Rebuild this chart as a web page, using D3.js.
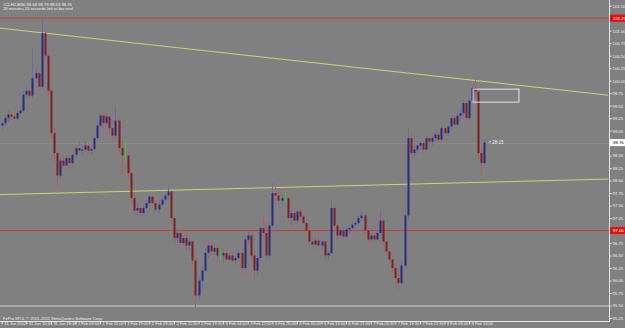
<!DOCTYPE html>
<html>
<head>
<meta charset="utf-8">
<script src="https://d3js.org/d3.v7.min.js"></script>
<style>
  html, body { margin: 0; padding: 0; background: #808080; overflow: hidden; }
  svg { display: block; }
  text { font-family: "Liberation Sans", Arial, sans-serif; }
</style>
</head>
<body>
<svg id="chart" width="625" height="328"></svg>
<script>
// testi del grafico
const symbolLine = "#CLH2,M30  98.68 98.79 98.63 98.76";
const timerLine = "28 minutes 15 seconds left to bar end";
const copyright = "FxPro MT4, \u00a9 2001-2011 MetaQuotes Software Corp.";
const timerLabel = "< 28:15";

// candele M30: [open, high, low, close]
const bars = [
  [99.10, 99.20, 99.02, 99.15], [99.15, 99.30, 99.10, 99.25], [99.25, 99.40, 99.18, 99.32],
  [99.32, 99.38, 99.22, 99.28], [99.28, 99.35, 99.20, 99.24], [99.24, 99.40, 99.20, 99.35],
  [99.35, 99.45, 99.28, 99.40], [99.40, 99.80, 99.35, 99.72], [99.72, 99.88, 99.65, 99.80],
  [99.80, 99.85, 99.62, 99.70], [99.70, 100.65, 99.65, 100.05], [100.05, 100.25, 99.95, 100.15],
  [100.15, 100.20, 99.80, 99.88], [99.88, 101.25, 99.85, 100.95], [100.95, 101.00, 100.40, 100.50],
  [100.50, 100.55, 99.70, 99.80], [99.80, 99.85, 98.85, 98.95], [98.95, 99.05, 98.35, 98.55],
  [98.55, 98.60, 97.88, 98.10], [98.10, 98.45, 98.05, 98.40], [98.40, 98.48, 98.25, 98.30],
  [98.30, 98.50, 98.28, 98.45], [98.45, 98.52, 98.20, 98.35], [98.35, 98.55, 98.30, 98.52],
  [98.52, 98.70, 98.45, 98.65], [98.65, 98.80, 98.55, 98.60], [98.60, 98.70, 98.52, 98.62],
  [98.62, 98.78, 98.58, 98.70], [98.70, 98.75, 98.55, 98.60], [98.60, 98.68, 98.52, 98.63],
  [98.63, 98.90, 98.60, 98.85], [98.85, 99.20, 98.80, 99.10], [99.10, 99.35, 99.05, 99.30],
  [99.30, 99.38, 99.05, 99.15], [99.15, 99.35, 99.08, 99.28], [99.28, 99.30, 98.95, 99.05],
  [99.05, 99.20, 98.80, 98.90], [98.90, 99.48, 98.85, 99.20], [99.20, 99.25, 98.55, 98.65],
  [98.65, 98.80, 98.12, 98.50], [98.50, 98.82, 98.38, 98.50], [98.50, 98.58, 98.05, 98.15],
  [98.15, 98.20, 97.55, 97.65], [97.65, 97.75, 97.30, 97.40], [97.40, 97.55, 97.28, 97.45],
  [97.45, 97.50, 97.30, 97.35], [97.35, 97.50, 97.30, 97.45], [97.45, 97.60, 97.40, 97.55],
  [97.55, 97.72, 97.50, 97.68], [97.68, 97.72, 97.50, 97.55], [97.55, 97.60, 97.38, 97.42],
  [97.42, 97.58, 97.35, 97.52], [97.52, 97.68, 97.48, 97.62], [97.62, 97.75, 97.55, 97.70],
  [97.70, 97.92, 97.62, 97.78], [97.78, 97.80, 97.15, 97.25], [97.25, 97.30, 96.70, 96.85],
  [96.85, 97.05, 96.75, 96.95], [96.95, 97.02, 96.68, 96.75], [96.75, 96.90, 96.70, 96.85],
  [96.85, 96.92, 96.60, 96.70], [96.70, 96.85, 96.60, 96.78], [96.78, 96.82, 96.30, 96.40],
  [96.40, 96.45, 95.45, 95.70], [95.70, 96.10, 95.60, 96.00], [96.00, 96.30, 95.85, 96.20],
  [96.20, 96.65, 96.15, 96.55], [96.55, 96.78, 96.45, 96.70], [96.70, 96.80, 96.50, 96.58],
  [96.58, 96.72, 96.50, 96.65], [96.65, 96.70, 96.45, 96.50], [96.50, 96.62, 96.40, 96.50],
  [96.50, 96.60, 96.35, 96.55], [96.55, 96.62, 96.38, 96.42], [96.42, 96.55, 96.38, 96.50],
  [96.50, 96.58, 96.35, 96.40], [96.40, 96.50, 96.30, 96.45], [96.45, 96.62, 96.40, 96.55],
  [96.55, 96.60, 96.12, 96.25], [96.25, 96.90, 96.20, 96.82], [96.82, 97.00, 96.70, 96.90],
  [96.90, 96.95, 96.40, 96.50], [96.50, 96.60, 96.00, 96.20], [96.20, 96.50, 96.10, 96.45],
  [96.45, 97.10, 96.40, 97.05], [97.05, 97.25, 96.85, 96.95], [96.95, 97.15, 96.40, 96.50],
  [96.50, 97.15, 96.45, 97.10], [97.10, 97.95, 97.05, 97.75], [97.75, 97.90, 97.60, 97.70],
  [97.70, 97.80, 97.55, 97.60], [97.60, 97.72, 97.50, 97.65], [97.65, 97.75, 97.55, 97.65],
  [97.65, 97.68, 97.15, 97.25], [97.25, 97.40, 97.10, 97.35], [97.35, 97.45, 97.15, 97.20],
  [97.20, 97.42, 97.15, 97.38], [97.38, 97.45, 97.20, 97.28], [97.28, 97.35, 97.10, 97.15],
  [97.15, 97.30, 96.95, 97.00], [97.00, 97.10, 96.70, 96.78], [96.78, 96.88, 96.65, 96.72],
  [96.72, 96.85, 96.62, 96.80], [96.80, 96.85, 96.65, 96.70], [96.70, 96.82, 96.62, 96.78],
  [96.78, 96.80, 96.40, 96.50], [96.50, 96.60, 96.40, 96.55], [96.55, 97.60, 96.50, 97.45],
  [97.45, 97.50, 97.00, 97.10], [97.10, 97.15, 96.80, 96.90], [96.90, 97.05, 96.85, 97.00],
  [97.00, 97.08, 96.82, 96.88], [96.88, 97.05, 96.85, 97.02], [97.02, 97.10, 96.95, 97.05],
  [97.05, 97.18, 97.00, 97.12], [97.12, 97.20, 97.05, 97.15], [97.15, 97.30, 97.10, 97.25],
  [97.25, 97.38, 97.20, 97.30], [97.30, 97.32, 96.95, 97.00], [97.00, 97.05, 96.75, 96.82],
  [96.82, 96.95, 96.78, 96.90], [96.90, 96.95, 96.78, 96.82], [96.82, 97.00, 96.80, 96.95],
  [96.95, 97.40, 96.90, 97.20], [97.20, 97.25, 96.70, 96.78], [96.78, 96.85, 96.50, 96.58],
  [96.58, 96.65, 96.35, 96.42], [96.42, 96.50, 96.15, 96.25], [96.25, 96.35, 95.95, 96.05],
  [96.05, 96.15, 95.80, 95.95], [95.95, 96.40, 95.90, 96.30], [96.30, 97.40, 96.25, 97.30],
  [97.30, 99.05, 97.20, 98.85], [98.85, 98.95, 98.45, 98.55], [98.55, 98.70, 98.45, 98.62],
  [98.62, 98.78, 98.55, 98.70], [98.70, 98.80, 98.62, 98.75], [98.75, 98.80, 98.55, 98.62],
  [98.62, 98.90, 98.58, 98.85], [98.85, 98.92, 98.70, 98.78], [98.78, 98.90, 98.70, 98.85],
  [98.85, 98.98, 98.80, 98.92], [98.92, 98.95, 98.78, 98.82], [98.82, 99.10, 98.78, 99.05],
  [99.05, 99.10, 98.90, 98.95], [98.95, 99.12, 98.90, 99.08], [99.08, 99.30, 99.02, 99.25],
  [99.25, 99.30, 99.05, 99.12], [99.12, 99.35, 99.08, 99.30], [99.30, 99.40, 99.20, 99.35],
  [99.35, 99.60, 99.30, 99.55], [99.55, 99.58, 99.20, 99.25], [99.25, 99.65, 99.18, 99.60],
  [99.60, 99.90, 99.55, 99.85], [99.85, 100.05, 99.70, 99.78], [99.78, 99.85, 98.40, 98.55],
  [98.55, 98.62, 98.12, 98.35], [98.35, 98.82, 98.30, 98.76]
];

// etichette dell'asse del tempo e barra a cui si riferiscono
const timeLabels = [
  "31 Jan 2012", "31 Jan 10:30", "31 Jan 18:30", "1 Feb 03:00", "1 Feb 11:00",
  "1 Feb 19:00", "2 Feb 03:00", "2 Feb 11:30", "2 Feb 19:30", "3 Feb 04:00",
  "3 Feb 12:00", "3 Feb 20:00", "6 Feb 05:00", "6 Feb 13:00", "6 Feb 21:00",
  "7 Feb 05:30", "7 Feb 13:30", "7 Feb 21:30", "8 Feb 06:00", "8 Feb 14:00"
];
const timeTickBars = [0, 8, 16, 24, 32, 40, 48, 56, 64, 72, 80, 88, 96, 104, 112, 120, 128, 136, 144, 152];

const priceTicks = [
  95.25, 95.50, 95.75, 96.00, 96.25, 96.50, 96.75, 97.00, 97.25, 97.50, 97.75, 98.00, 98.25,
  98.50, 98.75, 99.00, 99.25, 99.50, 99.75, 100.00, 100.25, 100.50, 100.75, 101.00, 101.25, 101.50
];

// livelli e oggetti disegnati sul grafico
const redLevels = [101.25, 97.00];
const whiteLevel = 95.49;
const lastPrice = 98.76;
const trendLines = [
  [[-0.55, 101.05], [197.2, 99.71]],
  [[-0.55, 97.72], [197.2, 98.03]]
];
const boxBars = [153.3, 168.2];
const boxPrices = [99.83, 99.57];

// dimensioni
const W = 625, H = 328;
const plotRight = 609, plotBottom = 321;

const svg = d3.select("#chart");

const x = d3.scaleLinear().domain([0, 197]).range([1.7, 1.7 + 197 * 3.075]);
const y = d3.scaleLinear().domain([95.25, 101.5]).range([318, 5.7]);

svg.append("rect").attr("width", W).attr("height", H).attr("fill", "#808080");

svg.append("clipPath").attr("id", "plot")
  .append("rect").attr("x", 0).attr("y", 0).attr("width", plotRight).attr("height", plotBottom);

const g = svg.append("g").attr("clip-path", "url(#plot)");

// linea bid
g.append("line")
  .attr("x1", 0).attr("x2", plotRight)
  .attr("y1", Math.round(y(lastPrice)) + 0.5).attr("y2", Math.round(y(lastPrice)) + 0.5)
  .style("stroke", "#898989").style("stroke-width", 1);

// livelli orizzontali
g.selectAll(".red-level").data(redLevels).enter()
  .append("line").attr("class", "red-level")
  .attr("x1", 0).attr("x2", plotRight)
  .attr("y1", (d) => y(d)).attr("y2", (d) => y(d))
  .style("stroke", "#c83c3c").style("stroke-width", 1);

g.append("line")
  .attr("x1", 0).attr("x2", plotRight)
  .attr("y1", y(whiteLevel)).attr("y2", y(whiteLevel))
  .style("stroke", "#d0d0d0").style("stroke-width", 1);

// trendline gialle
g.selectAll(".trend").data(trendLines).enter()
  .append("line").attr("class", "trend")
  .attr("x1", (d) => x(d[0][0])).attr("y1", (d) => y(d[0][1]))
  .attr("x2", (d) => x(d[1][0])).attr("y2", (d) => y(d[1][1]))
  .style("stroke", "#d2d26e").style("stroke-width", 1);

// candele
const candle = g.selectAll(".candle").data(bars).enter()
  .append("g").attr("class", "candle");

function wickColor(d) {
  if (d[0] === d[3]) return "#3cc83c";
  return d[3] > d[0] ? "#6c6ca4" : "#a86464";
}
function bodyColor(d) {
  if (d[0] === d[3]) return "#3cc83c";
  return d[3] > d[0] ? "#2a2a82" : "#821e1e";
}

candle.append("line")
  .attr("x1", (d, i) => Math.round(x(i)) + 0.5)
  .attr("x2", (d, i) => Math.round(x(i)) + 0.5)
  .attr("y1", (d) => y(d[1]))
  .attr("y2", (d) => y(d[2]))
  .style("stroke", wickColor).style("stroke-width", 1);

candle.append("rect")
  .attr("x", (d, i) => Math.round(x(i)) - 0.5)
  .attr("width", 2)
  .attr("y", (d) => y(Math.max(d[0], d[3])))
  .attr("height", (d) => Math.max(1, y(Math.min(d[0], d[3])) - y(Math.max(d[0], d[3]))))
  .style("fill", bodyColor);

// rettangolo bianco
g.append("rect")
  .attr("x", x(boxBars[0])).attr("y", y(boxPrices[0]))
  .attr("width", x(boxBars[1]) - x(boxBars[0]))
  .attr("height", y(boxPrices[1]) - y(boxPrices[0]))
  .style("fill", "none").style("stroke", "#e8e8e8").style("stroke-width", 1);

// timer della candela
g.append("text")
  .attr("x", x(bars.length - 1) + 4).attr("y", y(lastPrice) + 1.5)
  .attr("font-size", 4.5).attr("fill", "#f0f0f0")
  .text(timerLabel);

// testi in alto a sinistra
svg.append("text").attr("x", 3).attr("y", 5.5)
  .attr("font-size", 4.2).attr("fill", "#f0f0f0").text(symbolLine);
svg.append("text").attr("x", 3).attr("y", 10)
  .attr("font-size", 4.2).attr("fill", "#f0f0f0").text(timerLine);

svg.append("text").attr("x", 3).attr("y", 319.5)
  .attr("font-size", 4.2).attr("fill", "#f0f0f0").text(copyright);

// asse dei prezzi
const yAxis = svg.append("g")
  .attr("transform", `translate(${plotRight + 0.5},0)`)
  .call(d3.axisRight(y).tickValues(priceTicks).tickSize(2).tickPadding(1)
    .tickFormat(d3.format(".2f")));
yAxis.select(".domain").attr("d", `M0,0V${plotBottom + 0.5}`).style("stroke", "#e6e6e6");
yAxis.selectAll(".tick line").style("stroke", "#e6e6e6");
yAxis.selectAll(".tick text")
  .attr("font-size", 4.3).attr("fill", "#f0f0f0")
  .attr("font-family", "Liberation Sans, Arial, sans-serif");

// asse del tempo
const xAxis = svg.append("g")
  .attr("transform", `translate(0,${plotBottom + 0.5})`)
  .call(d3.axisBottom(x).tickValues(timeTickBars).tickSize(3)
    .tickFormat((d, i) => timeLabels[i]));
xAxis.select(".domain").attr("d", `M0,0H${plotRight + 0.5}`).style("stroke", "#e6e6e6");
xAxis.selectAll(".tick line").style("stroke", "#e6e6e6");
xAxis.selectAll(".tick text")
  .attr("font-size", 4).attr("fill", "#f0f0f0")
  .attr("font-family", "Liberation Sans, Arial, sans-serif")
  .attr("text-anchor", "start").attr("x", 2).attr("y", 1).attr("dy", "0.71em");

// etichette colorate sull'asse
const markers = redLevels.map((p) => ({ price: p, fill: "#e01010", text: "#ffffff" }))
  .concat([{ price: lastPrice, fill: "#ffffff", text: "#000000" }]);

const marker = svg.selectAll(".marker").data(markers).enter()
  .append("g").attr("class", "marker")
  .attr("transform", (d) => `translate(${plotRight + 1},${y(d.price)})`);

marker.append("rect")
  .attr("x", 0).attr("y", -3.5).attr("width", 16).attr("height", 7)
  .style("fill", (d) => d.fill);
marker.append("text")
  .attr("x", 3).attr("y", 1.5)
  .attr("font-size", 4.3).attr("fill", (d) => d.text)
  .text((d) => d.price.toFixed(2));
</script>
</body>
</html>
